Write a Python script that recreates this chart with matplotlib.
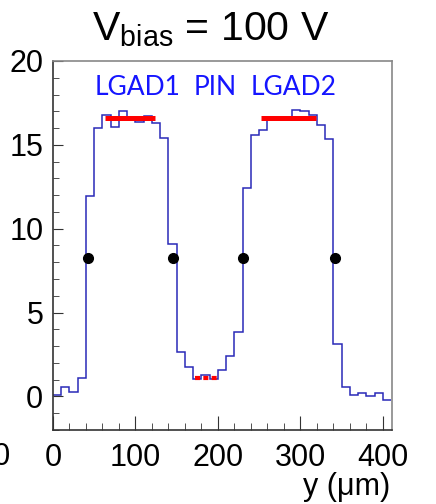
import numpy as np
import matplotlib
matplotlib.use("Agg")
import matplotlib.pyplot as plt
from matplotlib.ticker import MultipleLocator

plt.rcParams['font.family'] = ['Liberation Sans', 'DejaVu Sans']
plt.rcParams['mathtext.fontset'] = 'custom'
plt.rcParams['mathtext.rm'] = 'Liberation Sans'

# bin edges (um) and bin contents
bin_edges = np.arange(0, 420, 10)
counts = [0.10, 0.54, 0.26, 1.12, 11.97, 16.0, 16.8, 16.07, 17.0, 16.6,
          16.37, 16.73, 16.29, 15.4, 9.1, 2.64, 1.76, 1.04, 1.28, 1.04,
          1.6, 2.42, 3.86, 12.43, 15.57, 15.9, 16.47, 16.6, 16.47, 17.09,
          17.03, 16.77, 16.17, 15.33, 3.14, 0.54, 0.10, 0.18, 0.0, 0.18,
          -0.2]

# half-maximum points
edge_x = [42, 145, 230, 342]
edge_y = [8.25, 8.25, 8.25, 8.25]

# plateau fits
lgad1_range = [63, 124]
lgad2_range = [252, 319]
plateau_val = 16.6
pin_range = [172, 201]
pin_val = 1.1

labels = ["LGAD1", "PIN", "LGAD2"]
label_x = [51, 170, 239]

fig = plt.figure(figsize=(4.36, 5.04), dpi=100)
ax = fig.add_axes([53/436, 1 - 430/504, 339/436, 369/504])

ax.stairs(counts, bin_edges, color='#2a2ab8', lw=1.1, baseline=None)
ax.plot(lgad1_range, [plateau_val]*2, color='red', lw=3.6, solid_capstyle='butt')
ax.plot(lgad2_range, [plateau_val]*2, color='red', lw=3.6, solid_capstyle='butt')
ax.plot(pin_range, [pin_val]*2, color='red', lw=3, linestyle=(0, (1.2, 0.8)))
ax.plot(edge_x, edge_y, 'o', color='black', markersize=7, zorder=5)

for lab, lx in zip(labels, label_x):
    ax.text(lx, 18.4, lab, color='#1515ff', fontsize=19, family='Lato',
            va='center', ha='left')

ax.set_xlim(0, 411)
ax.set_ylim(-2, 20)
ax.xaxis.set_major_locator(MultipleLocator(100))
ax.xaxis.set_minor_locator(MultipleLocator(20))
ax.yaxis.set_major_locator(MultipleLocator(5))
ax.yaxis.set_minor_locator(MultipleLocator(1))
ax.tick_params(axis='both', which='both', direction='in', labelsize=22, color='#333333')
ax.tick_params(axis='x', which='major', length=10, pad=9)
ax.tick_params(axis='x', which='minor', length=5)
ax.tick_params(axis='y', which='major', length=7, pad=7)
ax.tick_params(axis='y', which='minor', length=4)
for side in ['top', 'right']:
    ax.spines[side].set_color('#888888')
for side in ['left', 'bottom']:
    ax.spines[side].set_color('#333333')
for sp in ax.spines.values():
    sp.set_linewidth(1.2)

fig.text(92/436, 1 - 40/504, r'V$_{\mathregular{bias}}$ = 100 V', fontsize=29.5,
         ha='left', va='baseline')
fig.text(390/436, 8.6/504, u'y (\u03bcm)', fontsize=22, ha='right', va='baseline')
# label of the neighbouring panel, cut off at the left edge
fig.text(10/436, 1 - 465/504, '400', fontsize=22, ha='right', va='baseline')

fig.savefig('out.png', dpi=100)
